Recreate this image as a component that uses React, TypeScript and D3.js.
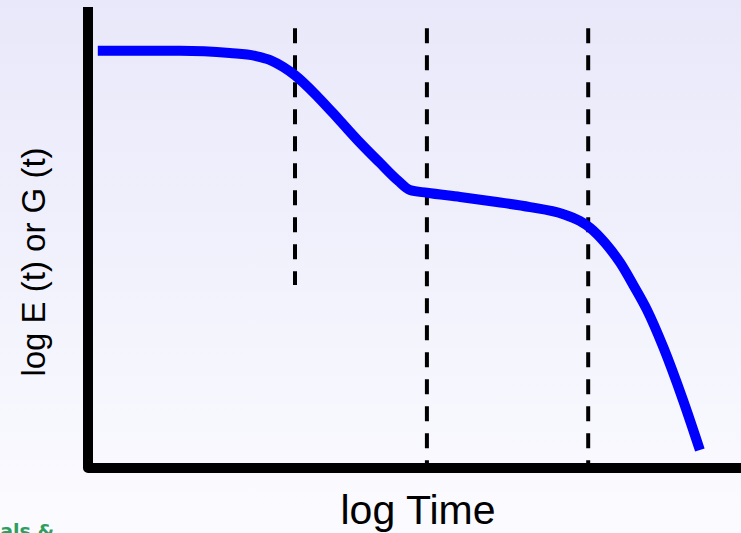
import React from 'react';
import * as d3 from 'd3';

// chart size
const W = 741;
const H = 533;

// the relaxation curve (log time, log modulus), both 0..100
const curveTime = [1.5, 14.1, 21.7, 25.6, 27.9, 29.9, 31.7, 35.2, 38.6, 41.7, 44.7, 47.5, 49.3, 51.9, 57.0, 62.6, 67.7, 72.7, 75.3, 76.9, 79.2, 81.5, 83.5, 85.6, 88.1, 91.1, 93.7];
const curveModulus = [90.5, 90.5, 90.0, 89.4, 88.5, 87.0, 85.2, 80.5, 75.3, 70.5, 66.2, 62.3, 60.3, 59.7, 58.8, 57.7, 56.6, 55.1, 53.6, 52.1, 48.8, 44.5, 39.7, 34.3, 26.2, 14.8, 3.9];

// region boundaries (dashed lines)
const boundaryTime = [31.7, 51.9, 76.6];
const boundaryTop = [95.4, 95.4, 95.4];
const boundaryBottom = [39.7, 0.6, 0.6];

const xLabel = 'log Time';
const yLabel = 'log E (t) or G (t)';
const footer = 'Materials &';

const App: React.FC = () => {
  const x = d3.scaleLinear().domain([0, 100]).range([88, 741]);
  const y = d3.scaleLinear().domain([0, 100]).range([468, 7]);

  const pts: [number, number][] = curveTime.map((t, i) => [t, curveModulus[i]]);
  const line = d3
    .line<[number, number]>()
    .x(d => x(d[0]))
    .y(d => y(d[1]))
    .curve(d3.curveMonotoneX);

  return (
    <svg
      width={W}
      height={H}
      style={{ position: 'absolute', left: 0, top: 0, display: 'block' }}
    >
      <defs>
        <linearGradient id="bg" x1="0" y1="0" x2="0" y2="1">
          <stop offset="0%" stopColor="#e8e8fa" />
          <stop offset="100%" stopColor="#fbfbff" />
        </linearGradient>
      </defs>
      <rect x={0} y={0} width={W} height={H} fill="url(#bg)" />

      {/* dashed boundaries */}
      {boundaryTime.map((t, i) => (
        <line
          key={i}
          x1={x(t)}
          x2={x(t)}
          y1={y(boundaryTop[i])}
          y2={y(boundaryBottom[i])}
          stroke="#000"
          strokeWidth={4}
          strokeDasharray="15 12"
        />
      ))}

      {/* curve */}
      <path d={line(pts) || ''} fill="none" stroke="#0000ff" strokeWidth={10} strokeLinejoin="round" />

      {/* axes */}
      <path
        d={`M${x(0)},${y(100)} L${x(0)},${y(0)} L${W + 10},${y(0)}`}
        fill="none"
        stroke="#000"
        strokeWidth={10}
        strokeLinejoin="round"
      />

      <text
        x={418}
        y={524}
        textAnchor="middle"
        fontFamily="Liberation Sans, Arial, sans-serif"
        fontSize={41}
        fill="#000"
      >
        {xLabel}
      </text>
      <text
        transform="translate(45,262) rotate(-90)"
        textAnchor="middle"
        fontFamily="Liberation Sans, Arial, sans-serif"
        fontSize={33}
        fill="#000"
      >
        {yLabel}
      </text>

      <text
        x={54}
        y={538}
        textAnchor="end"
        fontFamily="DejaVu Sans, Verdana, sans-serif"
        fontWeight="bold"
        fontSize={19}
        fill="#2e9e60"
      >
        {footer}
      </text>
    </svg>
  );
};

export default App;
